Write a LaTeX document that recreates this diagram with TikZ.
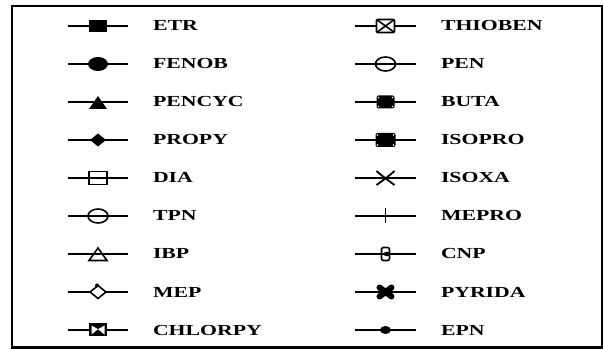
\documentclass[tikz,border=0pt]{standalone}
\usepackage{fontspec}
\setmainfont{Liberation Serif}[FakeStretch=1.42]
\begin{document}
\begin{tikzpicture}[x=0.75pt,y=-0.75pt,
  line width=1.5pt,
  frame/.style={draw, line width=1.7pt},
  keyline/.style={line width=1.7pt},
  label/.style={anchor=base west, inner sep=0pt, font=\fontsize{11.5}{12}\selectfont\bfseries},
  thin/.style={line width=1.2pt},
  mkETR/.pic={\fill (-9,-6) rectangle (9,6);},
  mkFENOB/.pic={\fill (0,0) ellipse [x radius=10, y radius=7];},
  mkPENCYC/.pic={\fill (-9,7) -- (9,7) -- (0,-6) -- cycle;},
  mkPROPY/.pic={\fill (-8,0) -- (0,-6.5) -- (8,0) -- (0,6.5) -- cycle;},
  mkDIA/.pic={\draw[thin,fill=white] (-9,-6.5) rectangle (9,6.5); \draw[line width=1.5pt] (-9,0) -- (9,0);},
  mkTPN/.pic={\draw[thin,fill=white] (0,0) ellipse [x radius=10, y radius=7]; \draw[line width=1.5pt] (-10,0) -- (10,0);},
  mkIBP/.pic={\draw[thin,fill=white] (-9,6.5) -- (9,6.5) -- (0,-6) -- cycle; \draw[line width=1.5pt] (-9,0) -- (9,0);},
  mkMEP/.pic={\draw[thin,fill=white] (-8,0) -- (0,-6.5) -- (8,0) -- (0,6.5) -- cycle;
              \fill (-1,-6.5) circle [radius=2];},
  mkCHLORPY/.pic={\fill (-9,-6.5) rectangle (9,6.5);
              \fill[white] (-6.5,-4.5) -- (0,-0.8) -- (-6.5,4.5) -- cycle;
              \fill[white] (6.5,-4.5) -- (0,-0.8) -- (6.5,4.5) -- cycle;},
  mkTHIOBEN/.pic={\draw[thin,fill=white,rounded corners=1pt] (-9,-6.5) rectangle (9,6.5);
              \draw[thin] (-9,-6.5) -- (9,6.5) (-9,6.5) -- (9,-6.5);},
  mkPEN/.pic={\draw[thin,fill=white] (0,0) ellipse [x radius=10, y radius=7]; \draw[line width=1.5pt] (-10,0) -- (10,0);},
  mkBUTA/.pic={\fill[rounded corners=1.5pt] (-9,-6.5) rectangle (9,6.5);
              \foreach \cx/\cy in {-7/-4.5,7/-4.5,-7/4.5,7/4.5} \fill[white] (\cx,\cy) circle [radius=0.8];},
  mkISOPRO/.pic={\fill[rounded corners=1.5pt] (-10,-7) rectangle (10,7);
              \foreach \cx/\cy in {-8/-5,8/-5,-8/5,8/5} \fill[white] (\cx,\cy) circle [radius=0.8];},
  mkISOXA/.pic={\draw[line width=1.4pt] (-9,-7) .. controls (-2,-1) .. (9,7);
              \draw[line width=1.4pt] (9,-7) .. controls (2,-1) .. (-9,7);},
  mkMEPRO/.pic={\draw[line width=1.4pt] (0,-7.5) -- (0,7.5);},
  mkCNP/.pic={\draw[thin,fill=white,rounded corners=1.5pt] (-4,-6.5) rectangle (4,6.5);
              \draw[line width=1.5pt] (-4,0) -- (4,0); \fill (1.5,0) ellipse [x radius=3.5, y radius=2.2];},
  mkPYRIDA/.pic={\draw[line width=4.5pt,line cap=round] (-6,-4.5) -- (6,4.5) (-6,4.5) -- (6,-4.5);},
  mkEPN/.pic={\fill (0,0) ellipse [x radius=5.5, y radius=4];}
]
\useasboundingbox (0,0) rectangle (604,349);
\draw[frame] (12,6) rectangle (602,347.5);

% left column
\foreach \name [count=\i from 0] in {ETR,FENOB,PENCYC,PROPY,DIA,TPN,IBP,MEP,CHLORPY} {
  \coordinate (L\i a) at (68,26+38*\i);
  \coordinate (L\i b) at (128,26+38*\i);
  \draw[keyline] (L\i a) -- (L\i b);
  \pic at (98,26+38*\i) {mk\name};
  \node[label] (t\name) at (152,31+38*\i) {\name};
}

% right column
\foreach \name [count=\i from 0] in {THIOBEN,PEN,BUTA,ISOPRO,ISOXA,MEPRO,CNP,PYRIDA,EPN} {
  \coordinate (R\i a) at (355,26+38*\i);
  \coordinate (R\i b) at (416,26+38*\i);
  \draw[keyline] (R\i a) -- (R\i b);
  \pic at (385.5,26+38*\i) {mk\name};
  \node[label] (t\name) at (440,31+38*\i) {\name};
}
\end{tikzpicture}
\end{document}
